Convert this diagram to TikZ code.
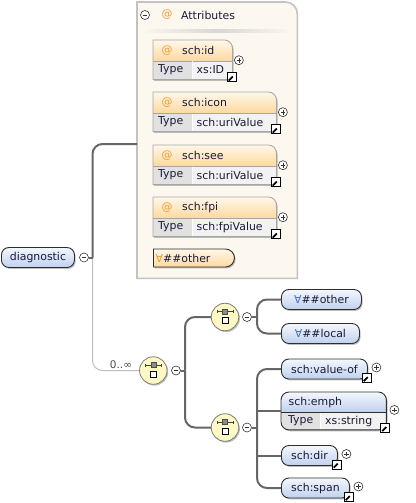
\documentclass[tikz,border=0pt]{standalone}
\usepackage{fontspec}
\setmainfont{DejaVu Sans}
\usetikzlibrary{shadows,shapes.misc}

\definecolor{elemtop}{HTML}{F4F7FD}
\definecolor{elembot}{HTML}{BFD1EE}
\definecolor{elemborder}{HTML}{2E2E2E}
\definecolor{elemtext}{HTML}{1A1A38}
\definecolor{attrtop}{HTML}{FFF7E9}
\definecolor{attrbot}{HTML}{FDD9A0}
\definecolor{attrborder}{HTML}{A6A6A6}
\definecolor{typecell}{HTML}{E1E1E1}
\definecolor{valcell}{HTML}{F2F2F2}
\definecolor{panelfill}{HTML}{FDF8EF}
\definecolor{panelborder}{HTML}{C2C2C2}
\definecolor{seqfill}{HTML}{FDF8C4}
\definecolor{seqborder}{HTML}{7C7C7C}
\definecolor{conncolor}{HTML}{666666}
\definecolor{faintconn}{HTML}{BEBEBE}
\definecolor{atorange}{HTML}{EE9C30}
\definecolor{wildblue}{HTML}{3D6FCF}
\definecolor{btnborder}{HTML}{333333}

\tikzset{
  boxshadow/.style={drop shadow={shadow xshift=1.2pt, shadow yshift=-1.4pt, opacity=0.25, fill=black}},
  elem/.style={rectangle, rounded corners=7.5pt, draw=elemborder, line width=0.9pt,
    top color=elemtop, bottom color=elembot, minimum height=20pt, inner sep=0pt,
    text=elemtext, anchor=west, boxshadow},
  attrframe/.style={rectangle, draw=none, minimum height=39pt, inner sep=0pt},
  txt/.style={inner sep=0pt, anchor=west, text=elemtext},
  atsign/.style={inner sep=0pt, anchor=center, text=atorange},
  btn/.style={circle, draw=btnborder, fill=white, line width=0.6pt, minimum size=9pt, inner sep=0pt},
  minusbtn/.style={btn, path picture={
    \draw[btnborder, line width=0.8pt]
      ([xshift=-2.4pt]path picture bounding box.center) -- ([xshift=2.4pt]path picture bounding box.center);}},
  plusbtn/.style={btn, path picture={
    \draw[btnborder, line width=0.8pt]
      ([xshift=-2.4pt]path picture bounding box.center) -- ([xshift=2.4pt]path picture bounding box.center)
      ([yshift=-2.4pt]path picture bounding box.center) -- ([yshift=2.4pt]path picture bounding box.center);}},
  linkicon/.style={rectangle, draw=black, fill=white, line width=0.9pt, minimum size=9pt, inner sep=0pt,
    path picture={
      \draw[line width=1.7pt] ([xshift=-3.2pt,yshift=-3.2pt]path picture bounding box.center)
        -- ([xshift=1.2pt,yshift=1.2pt]path picture bounding box.center);
      \fill ([xshift=3.4pt,yshift=3.4pt]path picture bounding box.center)
        -- ([xshift=-1.4pt,yshift=3.4pt]path picture bounding box.center)
        -- ([xshift=3.4pt,yshift=-1.4pt]path picture bounding box.center) -- cycle;}},
  seqnode/.style={circle, draw=seqborder, line width=0.8pt, fill=seqfill, minimum size=27.5pt,
    inner sep=0pt, boxshadow, path picture={
      \draw[black!75, line width=0.7pt]
        ([xshift=-8pt,yshift=5.5pt]path picture bounding box.center) -- ([xshift=8pt,yshift=5.5pt]path picture bounding box.center)
        ([xshift=-8pt,yshift=4pt]path picture bounding box.center) -- ([xshift=-8pt,yshift=7pt]path picture bounding box.center)
        ([xshift=8pt,yshift=4pt]path picture bounding box.center) -- ([xshift=8pt,yshift=7pt]path picture bounding box.center);
      \filldraw[fill=black!45, draw=black!70, line width=0.5pt]
        ([xshift=-2.5pt,yshift=3pt]path picture bounding box.center) rectangle ([xshift=2.5pt,yshift=8pt]path picture bounding box.center);
      \filldraw[fill=white, draw=black, line width=0.7pt]
        ([xshift=-3pt,yshift=-6.5pt]path picture bounding box.center) rectangle ([xshift=3pt,yshift=-0.5pt]path picture bounding box.center);}},
  conn/.style={draw=conncolor, line width=2pt, rounded corners=10pt},
  faint/.style={draw=faintconn, line width=1pt, rounded corners=10pt},
}

% outline of an attribute box: square corners except the upper right one
\newcommand\AttrShape[2]{\path[#2] (#1.south west) -- (#1.north west)
  -- ([xshift=-8pt]#1.north east) arc[start angle=90,end angle=0,radius=8pt]
  -- (#1.south east) -- cycle;}

% attribute box: node name, top y, width, attribute name, type name
\newcommand\AttrBox[5]{%
  \node[attrframe, minimum width=#3pt, anchor=north west] (#1) at (153,#2) {};
  \AttrShape{#1}{fill=attrbot, boxshadow}
  \begin{scope}
    \AttrShape{#1}{clip}
    \shade[top color=attrtop, bottom color=attrbot] (#1.north west) rectangle ([yshift=-21pt]#1.north east);
    \fill[typecell] ([yshift=-21pt]#1.north west) rectangle ([xshift=39pt]#1.south west);
    \fill[valcell] ([xshift=39pt,yshift=-21pt]#1.north west) rectangle (#1.south east);
  \end{scope}
  \draw[attrborder, line width=0.6pt] ([yshift=-21pt]#1.north west) -- ([yshift=-21pt]#1.north east);
  \draw[white, line width=0.8pt] ([xshift=39pt,yshift=-21.5pt]#1.north west) -- ([xshift=39pt,yshift=0.5pt]#1.south west);
  \AttrShape{#1}{draw=attrborder, line width=0.8pt}
  \node[atsign] (#1-at) at ([xshift=14pt,yshift=-10.5pt]#1.north west) {@};
  \node[txt] (#1-name) at ([xshift=29pt,yshift=-10.5pt]#1.north west) {#4};
  \node[txt] (#1-typelbl) at ([xshift=5pt,yshift=-30pt]#1.north west) {Type};
  \node[txt] (#1-typeval) at ([xshift=43.5pt,yshift=-30pt]#1.north west) {#5};
  \node[linkicon] (#1-link) at ([xshift=-0.5pt,yshift=2pt]#1.south east) {};
  \node[plusbtn] (#1-plus) at ([xshift=6.5pt,yshift=-0.5pt]#1.east) {};
}

\begin{document}
\begin{tikzpicture}[x=1pt, y=-1pt, font=\fontsize{10.9}{13}\selectfont]
\fill[white] (0,0) rectangle (415,503);
\useasboundingbox (0,0) rectangle (415,503);

% ---- attributes panel ----
\node[draw=none, minimum width=160pt, minimum height=276pt, inner sep=0pt, anchor=north west] (attrs) at (137,2) {};
\path[fill=panelfill, draw=panelborder, line width=1.6pt] (attrs.south west) -- (attrs.north west)
  -- ([xshift=-12pt]attrs.north east) arc[start angle=90,end angle=0,radius=12pt]
  -- (attrs.south east) -- cycle;
\node[minusbtn] (attrsminus) at (145,15) {};
\node[atsign] (attrsat) at (167,15) {@};
\node[txt] (attrstitle) at (181,15) {Attributes};
\shade[left color=panelfill, right color=panelfill, middle color=black!16] (141,30) rectangle (293,32.5);

\AttrBox{aid}{40}{79}{sch:id}{xs:ID}
\AttrBox{aicon}{92}{123}{sch:icon}{sch:uriValue}
\AttrBox{asee}{145}{123}{sch:see}{sch:uriValue}
\AttrBox{afpi}{197}{123}{sch:fpi}{sch:fpiValue}

\node[rounded rectangle, rounded rectangle left arc=none, draw=elemborder, line width=0.9pt,
  top color=attrtop, bottom color=attrbot, minimum width=81pt, minimum height=18pt,
  inner sep=0pt, anchor=west, boxshadow] (awild) at (153,258) {};
\node[txt] (awildtext) at (155.5,258) {{\color{atorange}∀}\#\#other};

% ---- root element ----
\node[elem, minimum width=73pt] (diag) at (1,257.5) {diagnostic};
\node[minusbtn] (diagminus) at (84,257.5) {};
\coordinate (djoin) at (92.5,257.5);
\coordinate (attrjoin) at (137,144);

% ---- compositors ----
\node[seqnode] (seq) at (153.3,370.5) {};
\node[minusbtn] (seqminus) at (176,370.5) {};
\coordinate (sjoin) at (185,370.5);
\node[seqnode] (seqa) at (225,317) {};
\node[minusbtn] (seqaminus) at (247,317) {};
\coordinate (ajoin) at (257,317);
\node[seqnode] (seqb) at (225,427.5) {};
\node[minusbtn] (seqbminus) at (247,427.5) {};
\coordinate (bjoin) at (257,427.5);

\node[text=black!70, inner sep=0pt, font=\fontsize{10.5}{12}\selectfont] (occurs) at (121,364.5) {0..∞};

% ---- child elements ----
\node[elem, minimum width=80pt] (eother) at (281,299.5) {{\color{wildblue}∀}\#\#other};
\node[elem, minimum width=78pt] (elocal) at (281,333.5) {{\color{wildblue}∀}\#\#local};

\node[elem, minimum width=86pt] (valueof) at (281,369) {sch:value-of};
\node[linkicon] (valueoflink) at ([xshift=-1pt,yshift=1.5pt]valueof.south east) {};
\node[plusbtn] (valueofplus) at ([xshift=8.5pt,yshift=1.5pt]valueof.east) {};

\node[rectangle, draw=none, minimum width=105pt, minimum height=37.5pt, anchor=north west, inner sep=0pt] (emph) at (281,392) {};
\fill[elembot, rounded corners=8pt, boxshadow] (emph.north west) rectangle (emph.south east);
\begin{scope}
  \clip[rounded corners=8pt] (emph.north west) rectangle (emph.south east);
  \shade[top color=elemtop, bottom color=elembot] (emph.north west) rectangle ([yshift=-20pt]emph.north east);
  \fill[typecell] ([yshift=-20pt]emph.north west) rectangle ([xshift=39pt]emph.south west);
  \fill[valcell] ([xshift=39pt,yshift=-20pt]emph.north west) rectangle (emph.south east);
\end{scope}
\draw[white, line width=0.8pt] ([xshift=39pt,yshift=-20.5pt]emph.north west) -- ([xshift=39pt,yshift=0.5pt]emph.south west);
\draw[elemborder, line width=0.6pt] ([yshift=-20pt]emph.north west) -- ([yshift=-20pt]emph.north east);
\draw[elemborder, line width=0.9pt, rounded corners=8pt] (emph.north west) rectangle (emph.south east);
\node[txt] (emphname) at (288.5,402) {sch:emph};
\node[txt] (emphtypelbl) at (288,421) {Type};
\node[txt] (emphtypeval) at (325,421) {xs:string};
\node[linkicon] (emphlink) at ([xshift=-1pt,yshift=2pt]emph.south east) {};
\node[plusbtn] (emphplus) at ([xshift=8pt,yshift=1pt]emph.east) {};

\node[elem, minimum width=56pt] (dir) at (281,455.5) {sch:dir};
\node[linkicon] (dirlink) at ([xshift=-1pt,yshift=1.5pt]dir.south east) {};
\node[plusbtn] (dirplus) at ([xshift=8.5pt,yshift=1.5pt]dir.east) {};

\node[elem, minimum width=68pt] (span) at (281,488) {sch:span};
\node[linkicon] (spanlink) at ([xshift=-1pt,yshift=1.5pt]span.south east) {};
\node[plusbtn] (spanplus) at ([xshift=8.5pt,yshift=1.5pt]span.east) {};

% ---- connectors ----
\draw[faint] (djoin) |- (seq.west);
\draw[conn] (diagminus.east) -- (djoin);
\draw[conn] (djoin) |- (attrjoin);

\draw[conn] (seqminus.east) -- (sjoin);
\draw[conn] (sjoin) |- (seqa.west);
\draw[conn] (sjoin) |- (seqb.west);

\draw[conn] (seqaminus.east) -- (ajoin);
\draw[conn] (ajoin) |- (eother.west);
\draw[conn] (ajoin) |- (elocal.west);

\draw[conn] (seqbminus.east) -- (bjoin);
\draw[conn] (bjoin) |- (valueof.west);
\draw[conn] (bjoin) |- (span.west);
\draw[conn, sharp corners] (bjoin) |- (emph.west);
\draw[conn, sharp corners] (bjoin) |- (dir.west);
\end{tikzpicture}
\end{document}
